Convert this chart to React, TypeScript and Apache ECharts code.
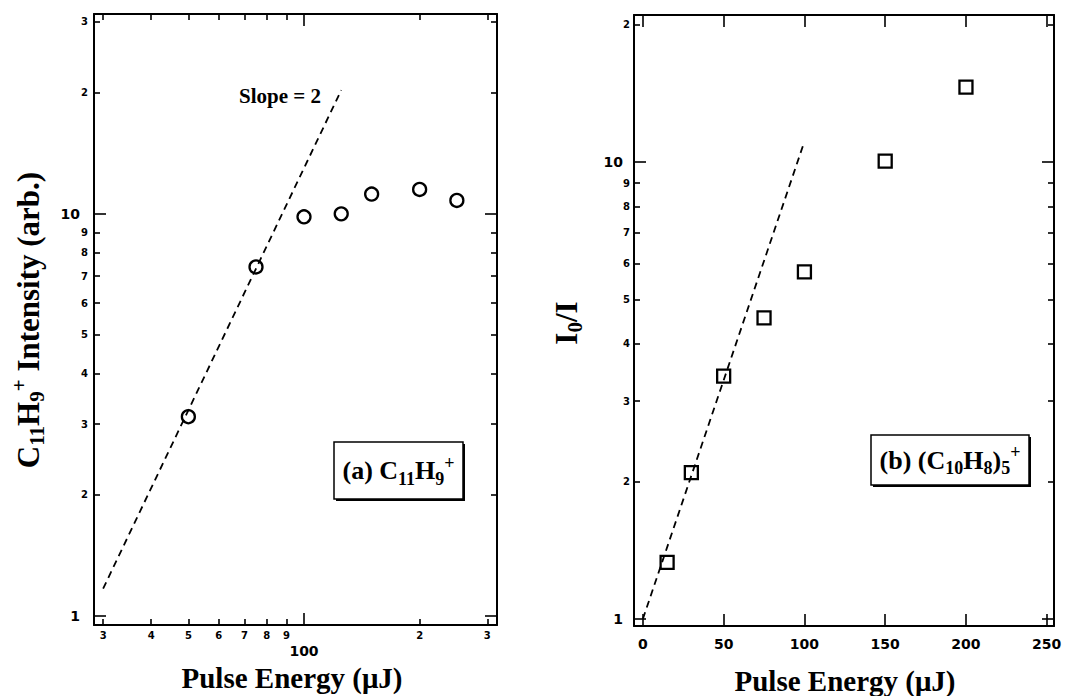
import React, { useEffect, useRef } from 'react';
import * as echarts from 'echarts';

// ---- Panel (a): C11H9+ intensity vs pulse energy (log-log)
const energyA = [50, 75, 100, 125, 150, 200, 250];
const intensityA = [3.13, 7.38, 9.83, 10.0, 11.2, 11.5, 10.8];
const slopeLineXA = [30, 125];
const slopeLineYA = [1.17, 20.3];
const xMinorTicksA = [30, 40, 50, 60, 70, 80, 90, 200, 300];
const xMajorTicksA = [100];
const yMinorTicksA = [2, 3, 4, 5, 6, 7, 8, 9, 20, 30];
const yMajorTicksA = [1, 10];

// ---- Panel (b): I0/I vs pulse energy (lin-log)
const energyB = [15, 30, 50, 75, 100, 150, 200];
const ratioB = [1.33, 2.09, 3.4, 4.56, 5.75, 10.05, 14.6];
const fitLineXB = [0, 100];
const fitLineYB = [1.0, 11.1];
const xTicksB = [0, 50, 100, 150, 200, 250];
const yMinorTicksB = [2, 3, 4, 5, 6, 7, 8, 9, 20];
const yMajorTicksB = [1, 10];

const BLACK = '#000';
const SERIF = '"Liberation Serif", "Times New Roman", serif';
const SANS = '"DejaVu Sans", sans-serif';

const leadDigit = (v: number) => {
  const p = Math.pow(10, Math.floor(Math.log10(v) + 1e-9));
  return String(Math.round(v / p));
};

function mkAxis(base: any, o: {
  line?: boolean; ticks?: number[]; tickLen?: number; labels?: number[];
  labelSize?: number; margin?: number; formatter?: (v: number) => string; position: string;
}) {
  return {
    ...base,
    position: o.position,
    splitLine: { show: false },
    axisLine: { show: !!o.line, onZero: false, lineStyle: { color: BLACK, width: 2 } },
    axisTick: o.ticks
      ? { show: true, inside: true, length: o.tickLen ?? 6, customValues: o.ticks, lineStyle: { color: BLACK, width: 1.6 } }
      : { show: false },
    axisLabel: o.labels
      ? {
          show: true,
          customValues: o.labels,
          formatter: o.formatter ?? ((v: number) => String(v)),
          fontFamily: SANS,
          fontWeight: 'bold',
          fontSize: o.labelSize ?? 10,
          color: BLACK,
          margin: o.margin ?? 5,
        }
      : { show: false },
  };
}

export default function App() {
  const ref = useRef<HTMLDivElement>(null);

  useEffect(() => {
    if (!ref.current) return;
    const chart = echarts.init(ref.current, undefined, { renderer: 'svg' });

    const xBaseA = { type: 'log', logBase: 10, gridIndex: 0, min: 28.4, max: 318 };
    const yBaseA = { type: 'log', logBase: 10, gridIndex: 0, min: 0.95, max: 31.4 };
    const xBaseB = { type: 'value', gridIndex: 1, min: -5.5, max: 254.5 };
    const yBaseB = { type: 'log', logBase: 10, gridIndex: 1, min: 0.965, max: 21 };

    const xAxis = [
      mkAxis(xBaseA, { position: 'bottom', line: true, ticks: xMinorTicksA, tickLen: 6, labels: xMinorTicksA, labelSize: 10, margin: 5, formatter: leadDigit }),
      mkAxis(xBaseA, { position: 'bottom', ticks: xMajorTicksA, tickLen: 12, labels: xMajorTicksA, labelSize: 14, margin: 19 }),
      mkAxis(xBaseA, { position: 'top', line: true, ticks: xMinorTicksA, tickLen: 6 }),
      mkAxis(xBaseA, { position: 'top', ticks: xMajorTicksA, tickLen: 12 }),
      mkAxis(xBaseB, { position: 'bottom', line: true, ticks: xTicksB, tickLen: 12, labels: xTicksB, labelSize: 14, margin: 11 }),
      mkAxis(xBaseB, { position: 'top', line: true, ticks: xTicksB, tickLen: 12 }),
    ];
    const yAxis = [
      mkAxis(yBaseA, { position: 'left', line: true, ticks: yMinorTicksA, tickLen: 6, labels: yMinorTicksA, labelSize: 10, margin: 6, formatter: leadDigit }),
      mkAxis(yBaseA, { position: 'left', ticks: yMajorTicksA, tickLen: 12, labels: yMajorTicksA, labelSize: 14, margin: 14 }),
      mkAxis(yBaseA, { position: 'right', line: true, ticks: yMinorTicksA, tickLen: 6 }),
      mkAxis(yBaseA, { position: 'right', ticks: yMajorTicksA, tickLen: 12 }),
      mkAxis(yBaseB, { position: 'left', line: true, ticks: yMinorTicksB, tickLen: 6, labels: yMinorTicksB, labelSize: 10, margin: 4, formatter: leadDigit }),
      mkAxis(yBaseB, { position: 'left', ticks: yMajorTicksB, tickLen: 12, labels: yMajorTicksB, labelSize: 14, margin: 11 }),
      mkAxis(yBaseB, { position: 'right', line: true, ticks: yMinorTicksB, tickLen: 6 }),
      mkAxis(yBaseB, { position: 'right', ticks: yMajorTicksB, tickLen: 12 }),
    ];

    const subStyle = (size: number) => ({ fontSize: size, fontWeight: 'bold', fontFamily: SERIF, verticalAlign: 'bottom', lineHeight: size, fill: BLACK });
    const supStyle = (size: number) => ({ fontSize: size, fontWeight: 'bold', fontFamily: SERIF, verticalAlign: 'top', lineHeight: size, fill: BLACK });

    const titleText = (x: number, y: number, text: string, size: number, rotation = 0, subSize = 20) => ({
      type: 'text',
      x, y, rotation,
      z: 10,
      style: {
        text,
        fontFamily: SERIF,
        fontWeight: 'bold',
        fontSize: size,
        lineHeight: size + 8,
        fill: BLACK,
        align: 'center',
        verticalAlign: 'middle',
        rich: { sub: subStyle(subSize), sup: supStyle(subSize) },
      },
    });

    const legendBox = (x: number, y: number, w: number, h: number, text: string) => ({
      type: 'group',
      z: 10,
      children: [
        { type: 'rect', shape: { x: x + 2, y: y + 2, width: w, height: h }, style: { fill: BLACK } },
        { type: 'rect', shape: { x, y, width: w, height: h }, style: { fill: '#fff', stroke: BLACK, lineWidth: 1.5 } },
        titleText(x + w / 2, y + h / 2, text, 26, 0, 18),
      ],
    });

    chart.setOption({
      animation: false,
      backgroundColor: '#fff',
      grid: [
        { left: 94, top: 14, width: 403, height: 611 },
        { left: 634, top: 15, width: 420, height: 611 },
      ],
      xAxis,
      yAxis,
      series: [
        {
          type: 'line',
          xAxisIndex: 0, yAxisIndex: 0,
          data: slopeLineXA.map((x, i) => [x, slopeLineYA[i]]),
          symbol: 'none',
          lineStyle: { color: BLACK, width: 1.8, type: [7, 5] },
        },
        {
          type: 'scatter',
          xAxisIndex: 0, yAxisIndex: 0,
          data: energyA.map((x, i) => [x, intensityA[i]]),
          symbol: 'circle',
          symbolSize: 13,
          itemStyle: { color: '#fff', borderColor: BLACK, borderWidth: 2.3, opacity: 1 },
        },
        {
          type: 'line',
          xAxisIndex: 4, yAxisIndex: 4,
          data: fitLineXB.map((x, i) => [x, fitLineYB[i]]),
          symbol: 'none',
          lineStyle: { color: BLACK, width: 1.8, type: [7, 5] },
        },
        {
          type: 'scatter',
          xAxisIndex: 4, yAxisIndex: 4,
          data: energyB.map((x, i) => [x, ratioB[i]]),
          symbol: 'rect',
          symbolSize: 13,
          itemStyle: { color: '#fff', borderColor: BLACK, borderWidth: 2.3, opacity: 1 },
        },
      ],
      graphic: [
        titleText(292, 678, 'Pulse Energy (\u03bcJ)', 29),
        titleText(845, 681, 'Pulse Energy (\u03bcJ)', 29),
        titleText(28, 320, 'C{sub|11}H{sub|9}{sup|+} Intensity (arb.)', 31, Math.PI / 2, 21),
        titleText(566, 323, 'I{sub|0}/I', 31, Math.PI / 2, 21),
        {
          type: 'text', x: 280, y: 96, z: 10,
          style: { text: 'Slope = 2', fontFamily: SERIF, fontWeight: 'bold', fontSize: 21, fill: BLACK, align: 'center', verticalAlign: 'middle' },
        },
        legendBox(334, 442, 129, 57, '(a) C{sub|11}H{sub|9}{sup|+}'),
        legendBox(871, 435, 158, 50, '(b) (C{sub|10}H{sub|8}){sub|5}{sup|+}'),
      ],
    });

    return () => chart.dispose();
  }, []);

  return (
    <div
      ref={ref}
      style={{ position: 'fixed', left: 0, top: 0, width: 1086, height: 696, background: '#fff' }}
    />
  );
}
